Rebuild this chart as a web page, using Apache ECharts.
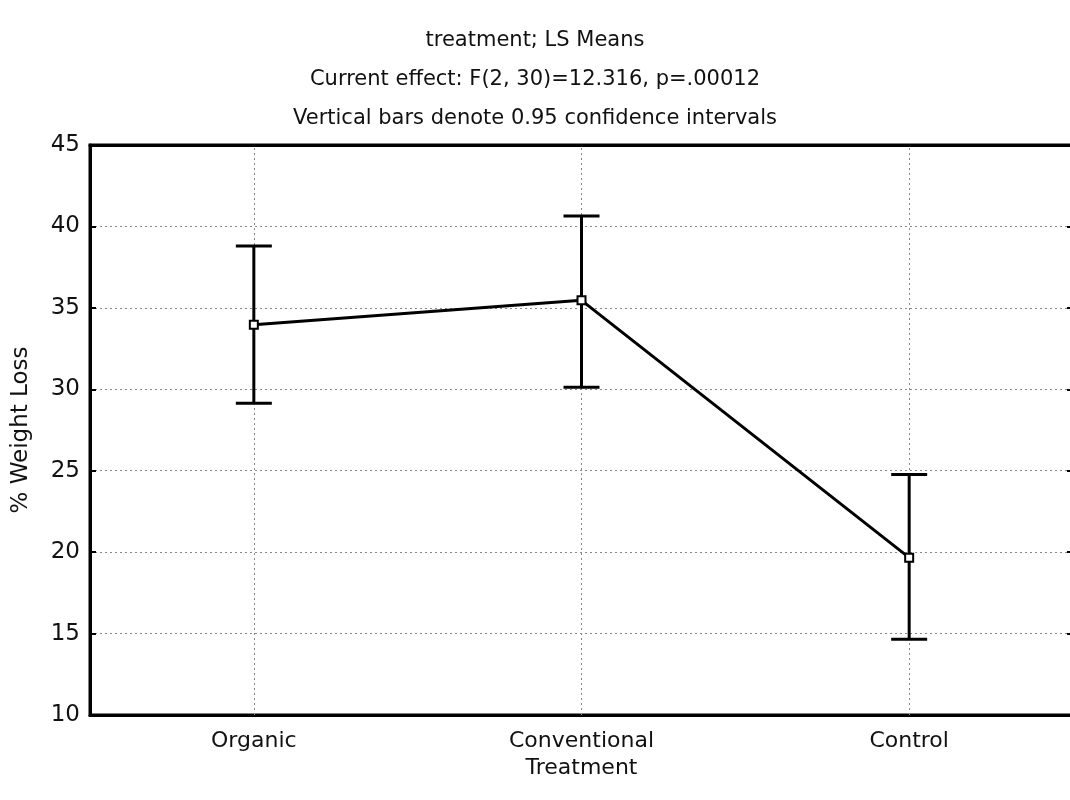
<!DOCTYPE html>
<html>
<head>
<meta charset="utf-8">
<script src="https://cdn.jsdelivr.net/npm/echarts@6/dist/echarts.min.js"></script>
<style>html,body{margin:0;padding:0;background:#fff;}#c{width:1070px;height:800px;}</style>
</head>
<body>
<div id="c"></div>
<script>
const categories = ['Organic', 'Conventional', 'Control'];
const means = [33.97, 35.46, 19.66];
const upper = [38.8, 40.64, 24.76];
const lower = [29.14, 30.12, 14.65];
const yTicks = [10, 15, 20, 25, 30, 35, 40, 45];
const titleLines = ['treatment; LS Means', 'Current effect: F(2, 30)=12.316, p=.00012', 'Vertical bars denote 0.95 confidence intervals'];

const FONT = 'DejaVu Sans';
const chart = echarts.init(document.getElementById('c'));
const errData = categories.map((c, i) => [i, lower[i], upper[i]]);

chart.setOption({
  backgroundColor: '#fff',
  animation: false,
  title: titleLines.map((t, i) => ({
    text: t, left: 'center', top: 25 + i * 39,
    textStyle: {fontFamily: FONT, fontSize: 21, fontWeight: 'normal', color: '#111'}
  })),
  grid: {left: 90, top: 145, width: 983, height: 570, outerBoundsMode: 'none', containLabel: false,
    show: true, borderColor: '#000', borderWidth: 3, backgroundColor: 'transparent'},
  xAxis: [{
    type: 'category', data: categories, position: 'bottom',
    name: 'Treatment', nameLocation: 'middle', nameGap: 33,
    nameTextStyle: {fontFamily: FONT, fontSize: 22, color: '#111'},
    axisLine: {lineStyle: {color: '#000', width: 3}},
    axisTick: {alignWithLabel: true, inside: true, length: 6, lineStyle: {color: '#000', width: 2}},
    axisLabel: {fontFamily: FONT, fontSize: 22, color: '#111', margin: 15},
    splitLine: {show: false}
  }, {
    type: 'category', data: categories, position: 'top',
    axisLine: {lineStyle: {color: '#000', width: 3}},
    axisTick: {alignWithLabel: true, inside: true, length: 6, lineStyle: {color: '#000', width: 2}},
    axisLabel: {show: false}, splitLine: {show: false}
  }],
  yAxis: [{
    type: 'value', min: 10, max: 45, interval: 5,
    name: '% Weight Loss', nameLocation: 'middle', nameGap: 57, nameRotate: 90,
    nameTextStyle: {fontFamily: FONT, fontSize: 23, color: '#111'},
    axisLine: {show: true, lineStyle: {color: '#000', width: 3}},
    axisTick: {show: true, inside: true, length: 6, lineStyle: {color: '#000', width: 2}},
    axisLabel: {fontFamily: FONT, fontSize: 23, color: '#111', margin: 10,
      formatter: v => yTicks.includes(v) ? String(v) : ''},
    splitLine: {show: true, lineStyle: {color: '#888', width: 1, type: [2, 3]}}
  }, {
    type: 'value', min: 10, max: 45, interval: 5, position: 'right',
    axisLine: {show: true, lineStyle: {color: '#000', width: 3}},
    axisTick: {show: true, inside: true, length: 6, lineStyle: {color: '#000', width: 2}},
    axisLabel: {show: false}, splitLine: {show: false}
  }],
  series: [{
    type: 'custom',
    xAxisIndex: 0, yAxisIndex: 0,
    data: errData,
    z: 3,
    renderItem: function (params, api) {
      const x = api.value(0);
      const lo = api.coord([x, api.value(1)]);
      const hi = api.coord([x, api.value(2)]);
      const half = 18;
      const st = {stroke: '#000', lineWidth: 3};
      return {type: 'group', children: [
        {type: 'line', shape: {x1: lo[0], y1: lo[1], x2: hi[0], y2: hi[1]}, style: st},
        {type: 'line', shape: {x1: hi[0] - half, y1: hi[1], x2: hi[0] + half, y2: hi[1]}, style: st},
        {type: 'line', shape: {x1: lo[0] - half, y1: lo[1], x2: lo[0] + half, y2: lo[1]}, style: st}
      ]};
    }
  }, {
    type: 'line',
    xAxisIndex: 0, yAxisIndex: 0,
    data: means,
    z: 4,
    lineStyle: {color: '#000', width: 3},
    symbol: 'rect', symbolSize: 8, showSymbol: true,
    itemStyle: {color: '#fff', borderColor: '#000', borderWidth: 2},
    markLine: {
      silent: true, symbol: 'none', z: 1,
      label: {show: false},
      lineStyle: {color: '#888', width: 1, type: [2, 3]},
      data: categories.map(c => ({xAxis: c}))
    }
  }]
});
</script>
</body>
</html>
